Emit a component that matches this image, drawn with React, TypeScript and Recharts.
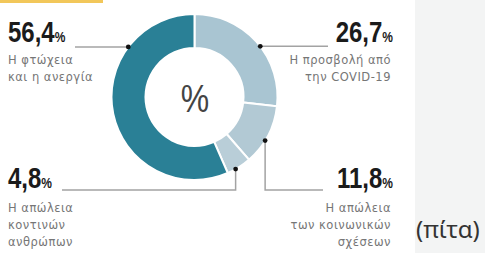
import { PieChart, Pie, Cell } from 'recharts';

const categories = [
  'Η προσβολή από την COVID-19',
  'Η απώλεια των κοινωνικών σχέσεων',
  'Η απώλεια κοντινών ανθρώπων',
  'Η φτώχεια και η ανεργία',
];
const values = [26.7, 11.8, 4.8, 56.4];
const captionLines = [
  ['Η προσβολή από', 'την COVID-19'],
  ['Η απώλεια', 'των κοινωνικών', 'σχέσεων'],
  ['Η απώλεια', 'κοντινών', 'ανθρώπων'],
  ['Η φτώχεια', 'και η ανεργία'],
];
const colors = ['#a9c5d2', '#b2c9d4', '#b9ced8', '#2a8096'];

const data = categories.map((name, i) => ({ name, value: values[i] }));

const NUM_FONT = "'Liberation Sans', Arial, sans-serif";
const SUB_FONT = "'DejaVu Sans', sans-serif";

// where each leader starts on the ring and where its text sits
const LAYOUT = [
  { angle: 37.6, route: 'h', toX: 328, anchor: 'end', textX: 393, numY: 42, subX: 391, subY: 64 },
  { angle: -31.7, route: 'vh', toX: 323, anchor: 'end', textX: 393, numY: 188, subX: 391, subY: 212 },
  { angle: -60.3, route: 'vh', toX: 62, anchor: 'start', textX: 8, numY: 188, subX: 8, subY: 212 },
  { angle: 142.9, route: 'h', toX: 75, anchor: 'start', textX: 8, numY: 42, subX: 8, subY: 64 },
];
const BASE_Y = 190;

function renderLabel(props: any) {
  const { cx, cy, outerRadius, index, value } = props;
  const l = LAYOUT[index];
  const rad = (l.angle * Math.PI) / 180;
  const dx = cx + outerRadius * Math.cos(rad);
  const dy = cy - outerRadius * Math.sin(rad);
  const path =
    l.route === 'h'
      ? `M${dx},${dy}H${l.toX}`
      : `M${dx},${dy}V${BASE_Y}H${l.toX}`;
  const num = value.toFixed(1).replace('.', ',');
  return (
    <g key={`lab-${index}`}>
      {index === 0 && (
        <text
          transform={`translate(${cx + 0.5},${cy + 15}) scale(0.82,1)`}
          textAnchor="middle"
          fontFamily={NUM_FONT}
          fontSize={39}
          fill="#444"
        >
          %
        </text>
      )}
      <path d={path} stroke="#a3a3a3" strokeWidth={1.5} fill="none" />
      <circle cx={dx} cy={dy} r={2.4} fill="#111" />
      <text
        transform={`translate(${l.textX},${l.numY}) scale(0.8,1)`}
        textAnchor={l.anchor}
        fontFamily={NUM_FONT}
        fontWeight="bold"
        fill="#1b1b1b"
      >
        <tspan fontSize={30}>{num}</tspan>
        <tspan fontSize={15}>%</tspan>
      </text>
      {captionLines[index].map((line, j) => (
        <text
          key={j}
          x={l.subX}
          y={l.subY + j * 17}
          textAnchor={l.anchor}
          fontFamily={SUB_FONT}
          fontSize={11.5}
          letterSpacing={0.5}
          fill="#767676"
        >
          {line}
        </text>
      ))}
    </g>
  );
}

export default function App() {
  return (
    <div style={{ position: 'absolute', left: 0, top: 0, width: 485, height: 253, background: '#fff', overflow: 'hidden' }}>
      <div style={{ position: 'absolute', left: 0, top: 0, width: 103, height: 3, background: '#f2c75a' }} />
      <div
        style={{
          position: 'absolute',
          left: 415,
          top: 0,
          width: 70,
          height: 253,
          background: '#f3f4f4',
        }}
      >
        <div
          style={{
            position: 'absolute',
            left: 1,
            top: 213,
            fontFamily: "'Noto Sans', sans-serif",
            fontSize: 24,
            color: '#333',
            lineHeight: '32px',
          }}
        >
          (πίτα)
        </div>
      </div>
      <PieChart width={415} height={253} style={{ position: 'absolute', left: 0, top: 0 }}>
        <Pie
          data={data}
          dataKey="value"
          nameKey="name"
          cx={189.5}
          cy={92}
          innerRadius={49}
          outerRadius={83}
          startAngle={90}
          endAngle={-270}
          stroke="#fff"
          strokeWidth={2}
          label={renderLabel}
          labelLine={false}
          isAnimationActive={false}
        >
          {data.map((d, i) => (
            <Cell key={d.name} fill={colors[i]} />
          ))}
        </Pie>
      </PieChart>
    </div>
  );
}
